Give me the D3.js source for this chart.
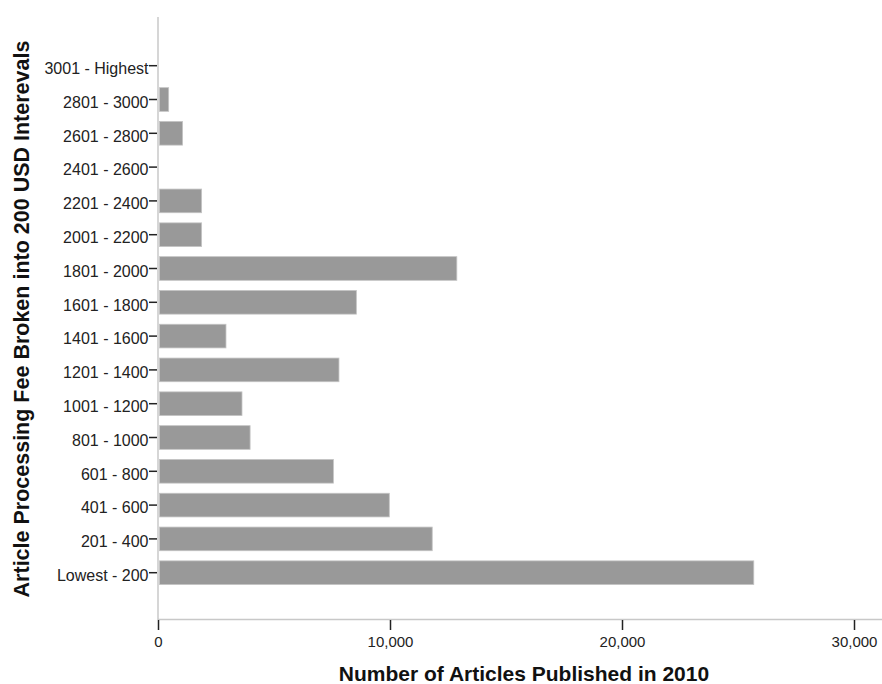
<!DOCTYPE html>
<html>
<head>
<meta charset="utf-8">
<script src="https://cdn.jsdelivr.net/npm/d3@7"></script>
<style>
  html, body { margin: 0; padding: 0; background: #fff; }
  svg { display: block; }
</style>
</head>
<body>
<svg id="chart" width="882" height="684"></svg>
<script>
const categories = [
  "3001 - Highest", "2801 - 3000", "2601 - 2800", "2401 - 2600",
  "2201 - 2400", "2001 - 2200", "1801 - 2000", "1601 - 1800",
  "1401 - 1600", "1201 - 1400", "1001 - 1200", "801 - 1000",
  "601 - 800", "401 - 600", "201 - 400", "Lowest - 200"
];
const articleCounts = [
  0, 460, 1060, 0,
  1880, 1880, 12880, 8550,
  2930, 7800, 3620, 3970,
  7560, 9970, 11820, 25680
];
const xTicks = [0, 10000, 20000, 30000];
const xTitle = "Number of Articles Published in 2010";
const yTitle = "Article Processing Fee Broken into 200 USD Interevals";

const svg = d3.select("#chart");
const font = "'Liberation Sans', Arial, sans-serif";

const x = d3.scaleLinear().domain([0, 30000]).range([158, 854]);
const y = d3.scaleBand().domain(categories).range([48.8, 589.6]).paddingInner(0.3).paddingOuter(0.15);

// axis lines (light gray)
svg.append("line").attr("x1", 158).attr("x2", 158).attr("y1", 17).attr("y2", 620)
  .attr("stroke", "#c8c8c8").attr("stroke-width", 1.5);
svg.append("line").attr("x1", 158).attr("x2", 882).attr("y1", 619.5).attr("y2", 619.5)
  .attr("stroke", "#c8c8c8").attr("stroke-width", 1.5);

// bars
const data = categories.map((c, i) => ({ c, v: articleCounts[i] }));
svg.append("g").selectAll("rect").data(data.filter(d => d.v > 0)).join("rect")
  .attr("x", x(0) + 1.5)
  .attr("y", d => y(d.c))
  .attr("width", d => Math.max(0, x(d.v) - x(0) - 1.5))
  .attr("height", y.bandwidth())
  .attr("fill", "#999999")
  .attr("stroke", "#c4c4c4").attr("stroke-width", 0.8);

// y axis ticks & labels
const yAxis = d3.axisLeft(y).tickSize(8).tickPadding(0.5);
const gy = svg.append("g").attr("transform", "translate(157,0)").call(yAxis);
gy.select(".domain").remove();
gy.selectAll(".tick line").attr("stroke", "#222").attr("stroke-width", 1.5);
gy.selectAll(".tick text").attr("font-family", font).attr("font-size", 16).attr("fill", "#222")
  .attr("dy", "0.52em");

// x axis ticks & labels
const xAxis = d3.axisBottom(x).tickValues(xTicks).tickSize(10).tickPadding(6).tickFormat(d3.format(","));
const gx = svg.append("g").attr("transform", "translate(0,620)").call(xAxis);
gx.select(".domain").remove();
gx.selectAll(".tick line").attr("stroke", "#222").attr("stroke-width", 1.5);
gx.selectAll(".tick text").attr("font-family", font).attr("font-size", 15).attr("fill", "#222");

// titles
svg.append("text").attr("x", 524).attr("y", 681).attr("text-anchor", "middle")
  .attr("font-family", font).attr("font-weight", "bold").attr("font-size", 21).attr("fill", "#111")
  .text(xTitle);
svg.append("text").attr("transform", "translate(28.5,319) rotate(-90)").attr("text-anchor", "middle")
  .attr("font-family", font).attr("font-weight", "bold").attr("font-size", 21.5).attr("fill", "#111")
  .text(yTitle);
</script>
</body>
</html>
